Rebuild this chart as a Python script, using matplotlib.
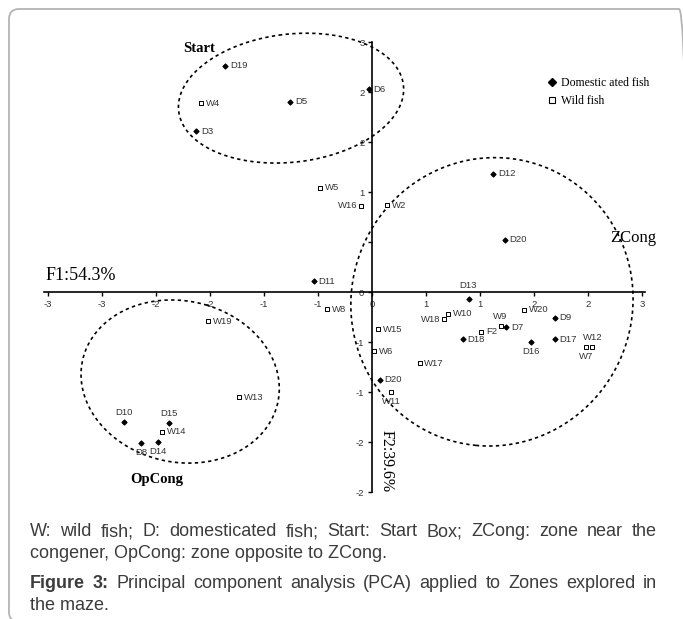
import matplotlib
matplotlib.use("Agg")
import matplotlib.pyplot as plt
from matplotlib.patches import FancyBboxPatch
from matplotlib.lines import Line2D
import numpy as np

# ---- data ----
dom_names = ["D19", "D5", "D3", "D6", "D11", "D12", "D20", "D13", "D7", "D18",
             "D9", "D17", "D16", "D20", "D10", "D15", "D8", "D14"]
dom_f1 = [-1.36, -0.76, -1.63, -0.03, -0.54, 1.12, 1.23, 0.90, 1.24, 0.84,
          1.69, 1.69, 1.47, 0.07, -2.30, -1.88, -2.14, -1.98]
dom_f2 = [2.26, 1.90, 1.61, 2.03, 0.11, 1.18, 0.52, -0.07, -0.35, -0.47,
          -0.26, -0.47, -0.50, -0.88, -1.30, -1.31, -1.51, -1.50]

wild_names = ["W4", "W5", "W16", "W2", "W8", "W19", "W10", "W18", "W20", "W9",
              "F2", "W12", "W7", "W15", "W6", "W17", "W11", "W13", "W14"]
wild_f1 = [-1.58, -0.48, -0.10, 0.14, -0.42, -1.52, 0.70, 0.67, 1.41, 1.19,
           1.01, 2.04, 1.98, 0.06, 0.02, 0.44, 0.18, -1.23, -1.94]
wild_f2 = [1.89, 1.04, 0.86, 0.87, -0.17, -0.29, -0.22, -0.27, -0.18, -0.34,
           -0.40, -0.55, -0.55, -0.37, -0.59, -0.71, -1.00, -1.05, -1.40]

x_ticks = [-3, -2.5, -2, -1.5, -1, -0.5, 0, 0.5, 1, 1.5, 2, 2.5]
x_tick_labels = ["-3", "-3", "-2", "-2", "-1", "-1", "0", "1", "1", "2", "2", "3"]
y_ticks = [-2, -1.5, -1, -0.5, 0, 0.5, 1, 1.5, 2, 2.5]
y_tick_labels = ["-2", "-2", "-1", "-1", "0", "", "1", "2", "2", "3"]

# hand-drawn group outlines, points traced along each dotted loop (F1, F2)
start_loop = [(-1.76, 1.82), (-1.66, 2.19), (-1.34, 2.42), (-0.76, 2.58),
              (0.00, 2.47), (0.20, 2.22), (0.28, 1.99), (0.19, 1.69),
              (0.00, 1.55), (-0.76, 1.32), (-1.41, 1.35), (-1.59, 1.49)]
zcong_loop = [(-0.20, -0.01), (-0.13, 0.32), (0.01, 0.65), (0.17, 0.85),
              (0.38, 1.05), (0.79, 1.25), (1.23, 1.41), (2.05, 0.92),
              (2.28, 0.52), (2.41, 0.12), (2.41, -0.08), (2.37, -0.38),
              (2.30, -0.68), (2.16, -0.98), (1.99, -1.16), (-0.11, -0.58),
              (0.01, -0.91), (0.19, -1.16), (0.35, -1.28), (0.69, -1.45),
              (0.94, -1.52)]
opcong_loop = [(-2.69, -0.88), (-2.61, -1.21), (-2.43, -1.40), (-2.21, -1.58),
               (-1.78, -1.70), (-1.38, -1.65), (-1.07, -1.50), (-0.88, -0.85),
               (-1.13, -0.38), (-1.50, -0.11), (-1.84, -0.08), (-1.99, -0.11)]

# label side for each point: r=right, l=left, a=above, A=higher above, b=below
dom_side = ["r", "r", "r", "r", "r", "r", "r", "A", "r", "r",
            "r", "r", "b", "r", "a", "a", "b", "b"]
wild_side = ["r", "r", "l", "r", "r", "r", "r", "l", "r", "a",
             "r", "a", "b", "r", "r", "r", "b", "r", "r"]

W, H = 683, 619
fig = plt.figure(figsize=(W / 100, H / 100), dpi=100)

# rounded frame around the whole panel
frame = FancyBboxPatch((9 / 100, (H - 622) / 100), 680 / 100, 613 / 100,
                       boxstyle="round,pad=0,rounding_size=0.1",
                       transform=fig.dpi_scale_trans, fill=False,
                       edgecolor="#b4b4b4", linewidth=1.3)
fig.patches.append(frame)

# axes: x 108 px per unit, origin at px 372 ; y 100 px per unit, origin at py 292
x0, x1 = -3.04, 2.53
y0, y1 = -2.0, 2.5
left_px = 372 + x0 * 108
ax = fig.add_axes([left_px / W, 1 - (292 - y0 * 100) / H,
                   (x1 - x0) * 108 / W, (y1 - y0) * 100 / H])
ax.set_xlim(x0, x1)
ax.set_ylim(y0, y1)
ax.patch.set_visible(False)
for s in ["top", "right"]:
    ax.spines[s].set_visible(False)
ax.spines["left"].set_position(("data", 0))
ax.spines["bottom"].set_position(("data", 0))
for s in ["left", "bottom"]:
    ax.spines[s].set_linewidth(1.2)
ax.set_xticks(x_ticks)
ax.set_xticklabels(x_tick_labels)
ax.set_yticks(y_ticks)
ax.set_yticklabels(y_tick_labels)
ax.tick_params(axis="both", direction="out", length=3, width=1, pad=2.5,
               labelsize=6.8, labelcolor="#333333")
for lab in ax.get_xticklabels() + ax.get_yticklabels():
    lab.set_family("Liberation Sans")

dom = ax.scatter(dom_f1, dom_f2, marker="D", s=6, color="black", zorder=3,
                 label="Domestic ated fish")
wild = ax.scatter(wild_f1, wild_f2, marker="s", s=9, facecolor="white",
                  edgecolor="black", linewidth=0.7, zorder=3, label="Wild fish")

offsets = {"r": ((3.5, 0), "left", "center"),
           "l": ((-2.5, 0), "right", "center"),
           "a": ((0, 7), "center", "center"),
           "A": ((-1, 10), "center", "center"),
           "b": ((0, -6.5), "center", "center")}


def put_labels(names, xs, ys, sides):
    for n, x, y, s in zip(names, xs, ys, sides):
        off, ha, va = offsets[s]
        ax.annotate(n, (x, y), xytext=off, textcoords="offset points",
                    ha=ha, va=va, fontsize=6.8, color="#333333",
                    family="Liberation Sans")


put_labels(dom_names, dom_f1, dom_f2, dom_side)
put_labels(wild_names, wild_f1, wild_f2, wild_side)


def dotted_loop(pts):
    # least-squares ellipse through the traced points, drawn dotted
    p = np.array(pts)
    x, y = p[:, 0], p[:, 1]
    A = np.column_stack([x * x, x * y, y * y, x, y])
    a, b, c, d, e = np.linalg.lstsq(A, np.ones(len(x)), rcond=None)[0]
    M = np.array([[a, b / 2], [b / 2, c]])
    ctr = np.linalg.solve(2 * M, [-d, -e])
    k = 1 + ctr @ M @ ctr
    vals, vecs = np.linalg.eigh(M)
    radii = np.sqrt(k / vals)
    t = np.linspace(0, 2 * np.pi, 300)
    curve = ctr[:, None] + vecs @ (radii[:, None] * np.vstack([np.cos(t), np.sin(t)]))
    ax.plot(curve[0], curve[1], color="black", linewidth=1.2,
            linestyle=(0, (2, 2)), clip_on=False)


for loop in (start_loop, zcong_loop, opcong_loop):
    dotted_loop(loop)

serif = "Liberation Serif"
ax.text(-1.60, 2.44, "Start", fontsize=10.5, fontweight="bold", family=serif,
        ha="center", va="center")
ax.text(-1.99, -1.88, "OpCong", fontsize=10.5, fontweight="bold", family=serif,
        ha="center", va="center")
ax.text(2.42, 0.54, "ZCong", fontsize=12, family=serif, ha="center",
        va="center", clip_on=False)
ax.text(-3.02, 0.08, "F1:54.3%", fontsize=13, family=serif, ha="left",
        va="bottom")
ax.text(0.06, -1.38, "F2:39.6%", fontsize=11.5, family=serif, rotation=-90,
        ha="left", va="top")

leg_handles = [Line2D([], [], marker="D", color="black", linestyle="none",
                      markersize=4.5),
               Line2D([], [], marker="s", markerfacecolor="white",
                      markeredgecolor="black", linestyle="none",
                      markersize=5, markeredgewidth=0.8)]
fig.legend(leg_handles, [dom.get_label(), wild.get_label()],
           loc="upper left", bbox_to_anchor=(548 / W, 1 - 77 / H),
           frameon=False, prop={"family": serif, "size": 8.5},
           handlelength=0.6, handletextpad=0.5, labelspacing=0.55,
           borderpad=0, borderaxespad=0)

# caption
cap_color = "#3c3c3c"
cap_font = dict(family="Liberation Sans", fontsize=13, color=cap_color,
                va="center")
renderer = fig.canvas.get_renderer()


def justified(tokens, y_px, xa=30, xb=657):
    texts = []
    for word, bold in tokens:
        t = fig.text(xa / W, 1 - y_px / H, word,
                     fontweight="bold" if bold else "normal", **cap_font)
        texts.append(t)
    widths = [t.get_window_extent(renderer).width for t in texts]
    gap = (xb - xa - sum(widths)) / (len(texts) - 1)
    x = xa
    for t, w in zip(texts, widths):
        t.set_x(x / W)
        x += w + gap


line1 = "W: wild fish; D: domesticated fish; Start: Start Box; ZCong: zone near the"
justified([(w, False) for w in line1.split()], 532)
fig.text(30 / W, 1 - 554 / H, "congener, OpCong: zone opposite to ZCong.",
         **cap_font)
line3 = "Principal component analysis (PCA) applied to Zones explored in"
justified([("Figure", True), ("3:", True)] + [(w, False) for w in line3.split()],
          584)
fig.text(30 / W, 1 - 605 / H, "the maze.", **cap_font)

fig.savefig("out.png", dpi=100)
